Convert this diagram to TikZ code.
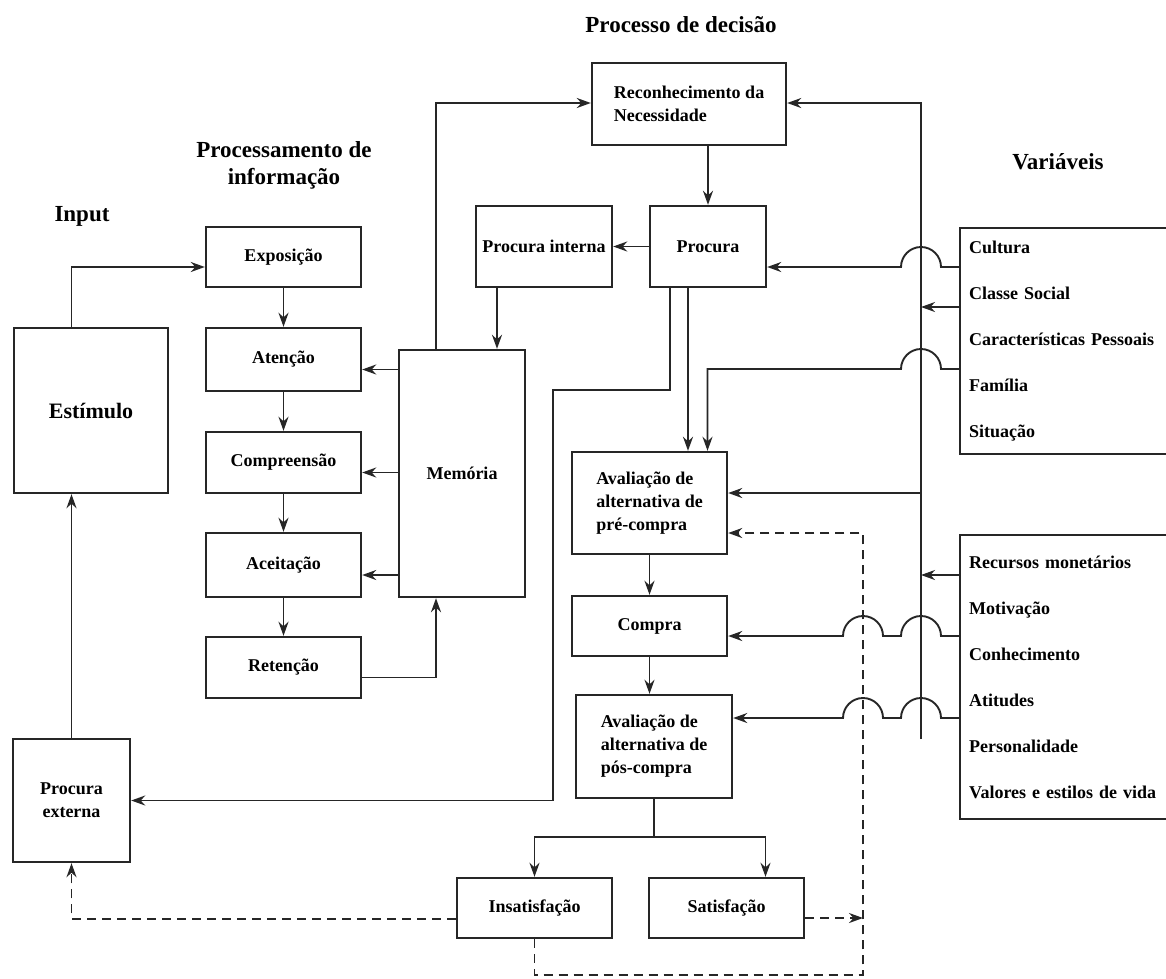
\documentclass[tikz,border=0pt]{standalone}
\usepackage{fontspec}
\setmainfont{Liberation Serif}
\usetikzlibrary{arrows.meta}
\tikzset{
  box/.style={draw=black!85, line width=2.4pt, inner sep=0pt, align=center, font=\bfseries\fontsize{18}{23}\selectfont},
  ttl/.style={align=center, font=\bfseries\fontsize{23}{27}\selectfont},
  varlist/.style={box, anchor=north west, align=left, text width=200pt, inner xsep=9pt, font=\bfseries\fontsize{18}{46}\selectfont},
  ln/.style={draw=black!85, line width=1.9pt},
  arr/.style={ln, -{Stealth[length=14pt,width=10pt]}},
  darr/.style={arr, dash pattern=on 9pt off 6pt},
}

\begin{document}
\begin{tikzpicture}[x=1pt,y=-1pt]
        \path[use as bounding box, fill=white] (0,0) rectangle (1166,978);

        %%% Titles %%%
        \node[ttl] (tdec) at (681,25) {Processo de decisão};
        \node[ttl] (tinf) at (284,165) {Processamento de\\informação};
        \node[ttl] (tin) at (82,216) {Input};
        \node[ttl] (tvar) at (1058,162) {Variáveis};

        %%% Input %%%
        \node[box, minimum width=154pt, minimum height=165pt, font=\bfseries\fontsize{22}{26}\selectfont] (estim) at (91,410.5) {Estímulo};
        \node[box, minimum width=117pt, minimum height=123pt] (pext) at (71.5,800.5) {Procura\\externa};

        %%% Processamento %%%
        \node[box, minimum width=155pt, minimum height=60pt] (expo) at (283.5,257) {Exposição};
        \node[box, minimum width=155pt, minimum height=63pt] (aten) at (283.5,359.5) {Atenção};
        \node[box, minimum width=155pt, minimum height=61pt] (comp) at (283.5,462.5) {Compreensão};
        \node[box, minimum width=155pt, minimum height=64pt] (acei) at (283.5,565) {Aceitação};
        \node[box, minimum width=155pt, minimum height=61pt] (rete) at (283.5,667.5) {Retenção};
        \node[box, minimum width=126pt, minimum height=247pt] (memo) at (462,473.5) {Memória};

        %%% Decisao %%%
        \node[box, minimum width=194pt, minimum height=82pt, align=left] (recon) at (689,104) {Reconhecimento da\\Necessidade};
        \node[box, minimum width=136pt, minimum height=81pt] (pint) at (544,246.5) {Procura interna};
        \node[box, minimum width=116pt, minimum height=81pt] (proc) at (708,246.5) {Procura};
        \node[box, minimum width=155pt, minimum height=102pt, align=left] (pre) at (649.5,503) {Avaliação de\\alternativa de\\pré-compra};
        \node[box, minimum width=155pt, minimum height=60pt] (compra) at (649.5,626) {Compra};
        \node[box, minimum width=156pt, minimum height=103pt, align=left] (pos) at (654,746.5) {Avaliação de\\alternativa de\\pós-compra};
        \node[box, minimum width=155pt, minimum height=60pt] (insat) at (534.5,908) {Insatisfação};
        \node[box, minimum width=155pt, minimum height=60pt] (satis) at (726.5,908) {Satisfação};

        %%% Variaveis %%%
        \node[varlist, minimum height=226pt] (varA) at (959,227) {Cultura\\Classe Social\\Características Pessoais\\Família\\Situação};
        \node[varlist, minimum height=284pt] (varB) at (959,534) {Recursos monetários\\Motivação\\Conhecimento\\Atitudes\\Personalidade\\Valores e estilos de vida};

        \coordinate (bus) at (921,103);
        \coordinate (busend) at (921,739);
        \coordinate (dsh) at (863,533);
        \coordinate (dshb) at (863,975);
        \coordinate (lk) at (436,103);
        \coordinate (bend) at (553,390);

        %%% Input arrows %%%
        \draw[arr] (estim.north -| pext.north) |- ([yshift=-10pt]expo.west);
        \draw[arr] (pext.north) -- (pext.north |- estim.south);

        %%% Processamento arrows %%%
        \draw[arr] (expo) -- (aten);
        \draw[arr] (aten) -- (comp);
        \draw[arr] (comp) -- (acei);
        \draw[arr] (acei) -- (rete);
        \draw[arr] ([yshift=-10pt]memo.west |- aten.east) -- ([yshift=-10pt]aten.east);
        \draw[arr] ([yshift=-10pt]memo.west |- comp.east) -- ([yshift=-10pt]comp.east);
        \draw[arr] ([yshift=-10pt]memo.west |- acei.east) -- ([yshift=-10pt]acei.east);
        \draw[arr] ([yshift=-10pt]rete.east) -| (lk |- memo.south);
        \draw[arr] (lk |- memo.north) |- (recon.west |- lk);

        %%% Decisao arrows %%%
        \draw[arr] (proc.north |- recon.south) -- (proc.north);
        \draw[arr] (proc.west) -- (pint.east);
        \draw[arr] ([xshift=-47pt]pint.south) -- ([xshift=-47pt]pint.south |- memo.north);
        \draw[arr] ([xshift=-20pt]proc.south) -- ([xshift=-20pt]proc.south |- pre.north);
        \draw[arr] ([xshift=-38pt]proc.south) |- (bend) |- (pext.east);
        \draw[arr] (pre) -- (compra);
        \draw[arr] (compra.south) -- (compra.south |- pos.north);
        \draw[arr] (pos.south) -- ++(0,38) -| (insat.north);
        \draw[arr] (pos.south) ++(0,38) -| ([xshift=39pt]satis.north);

        %%% Variaveis arrows %%%
        \draw[arr] (busend) -- (bus) -- (recon.east |- bus);
        \draw[arr] (varA.west |- 0,267) -- ([xshift=20pt]bus |- 0,267) arc[start angle=0, end angle=180, radius=20pt] -- (proc.east |- 0,267);
        \draw[arr] (varA.west |- 0,307) -- (bus |- 0,307);
        \draw[arr] (varA.west |- 0,369) -- ([xshift=20pt]bus |- 0,369) arc[start angle=0, end angle=180, radius=20pt] -| ([xshift=58pt]pre.north);
        \draw[arr] (bus |- 0,493) -- (pre.east |- 0,493);
        \draw[arr] (varB.west |- 0,575) -- (bus |- 0,575);
        \draw[arr] (varB.west |- 0,636) -- ([xshift=20pt]bus |- 0,636) arc[start angle=0, end angle=180, radius=20pt] -- ([xshift=20pt]dsh |- 0,636) arc[start angle=0, end angle=180, radius=20pt] -- (compra.east |- 0,636);
        \draw[arr] (varB.west |- 0,718) -- ([xshift=20pt]bus |- 0,718) arc[start angle=0, end angle=180, radius=20pt] -- ([xshift=20pt]dsh |- 0,718) arc[start angle=0, end angle=180, radius=20pt] -- (pos.east |- 0,718);

        %%% Feedback %%%
        \draw[darr] ([yshift=-11pt]insat.west) -| (pext.south);
        \draw[darr] (insat.south) |- (dshb) -- (dsh) -- ([yshift=-30pt]pre.east);
        \draw[darr] ([yshift=-10pt]satis.east) -- (dsh |- 0,918);
\end{tikzpicture}
\end{document}
